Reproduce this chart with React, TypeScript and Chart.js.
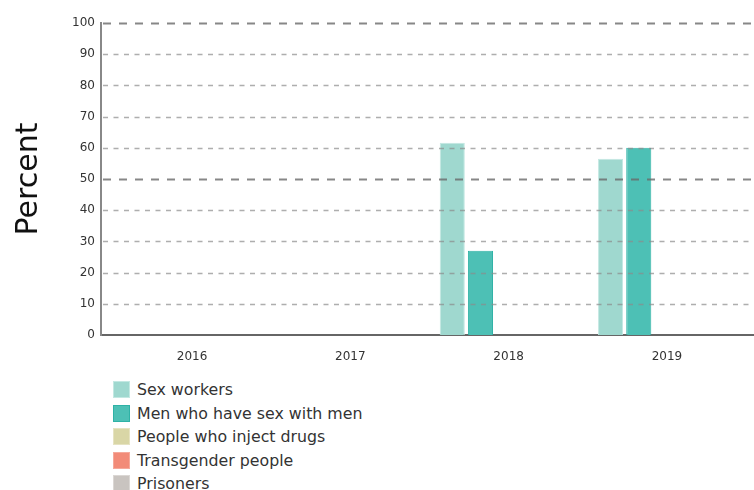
import React, { useEffect, useRef } from 'react';
import { Chart, registerables } from 'chart.js';

Chart.register(...registerables);

const years = ['2016', '2017', '2018', '2019'];
const seriesNames = [
  'Sex workers',
  'Men who have sex with men',
  'People who inject drugs',
  'Transgender people',
  'Prisoners',
];
const sexWorkers: (number | null)[] = [null, null, 61.6, 56.5];
const menWhoHaveSexWithMen: (number | null)[] = [null, null, 27, 60];
const peopleWhoInjectDrugs: (number | null)[] = [null, null, null, null];
const transgenderPeople: (number | null)[] = [null, null, null, null];
const prisoners: (number | null)[] = [null, null, null, null];
const yTickValues = [0, 10, 20, 30, 40, 50, 60, 70, 80, 90, 100];
const majorGridValues = [50, 100];

const seriesValues = [sexWorkers, menWhoHaveSexWithMen, peopleWhoInjectDrugs, transgenderPeople, prisoners];
const fillColors = ['#9fd8cf', '#4dc0b5', '#d9d6a6', '#f28b78', '#c9c4c0'];
const edgeColors = ['#c3e8e2', '#2fb2a6', '#e6e3c2', '#f5a99b', '#dbd7d4'];

const FONT = '"DejaVu Sans", Verdana, sans-serif';

const gridPlugin = {
  id: 'dashGrid',
  afterDatasetsDraw(chart: any) {
    const { ctx, chartArea, scales } = chart;
    const y = scales.y;
    ctx.save();
    for (const t of y.ticks) {
      const v = t.value;
      if (v === 0) continue;
      const py = Math.round(y.getPixelForValue(v)) + 0.5;
      const major = majorGridValues.includes(v);
      ctx.beginPath();
      ctx.setLineDash(major ? [8, 8] : [5, 5.5]);
      ctx.lineDashOffset = 0;
      ctx.lineWidth = major ? 2 : 1.5;
      ctx.strokeStyle = major ? 'rgba(105,105,105,0.8)' : 'rgba(140,140,140,0.7)';
      ctx.moveTo(chartArea.left + 2, py);
      ctx.lineTo(chartArea.right, py);
      ctx.stroke();
    }
    ctx.restore();
  },
};

export default function App() {
  const canvasRef = useRef<HTMLCanvasElement | null>(null);

  useEffect(() => {
    document.body.style.margin = '0';
    const canvas = canvasRef.current;
    if (!canvas) return;
    const chart = new Chart(canvas, {
      type: 'bar',
      data: {
        datasets: seriesNames.map((name, si) => ({
          label: name,
          data: years.map((_, i) => ({ x: i, y: seriesValues[si][i] })) as any,
          backgroundColor: fillColors[si],
          borderColor: edgeColors[si],
          borderWidth: 1,
          categoryPercentage: 0.89,
          barPercentage: 0.89,
        })),
      },
      options: {
        animation: false,
        responsive: false,
        maintainAspectRatio: false,
        layout: { padding: { top: 23, right: 0, left: 0, bottom: 0 } },
        plugins: {
          legend: { display: false },
          tooltip: { enabled: false },
        },
        scales: {
          x: {
            type: 'linear',
            offset: false,
            min: -0.575,
            max: 3.55,
            afterBuildTicks: (s: any) => {
              s.ticks = years.map((_, i) => ({ value: i }));
            },
            afterFit: (s: any) => {
              s.height = 37;
            },
            ticks: {
              callback: (v: any) => years[v as number] ?? '',
              color: '#333',
              font: { family: FONT, size: 12 },
              padding: 7,
              maxRotation: 0,
              autoSkip: false,
            },
            grid: { display: false, offset: false },
            border: { color: '#666', width: 2 },
          },
          y: {
            min: 0,
            max: 100,
            afterBuildTicks: (s: any) => {
              s.ticks = yTickValues.map((v) => ({ value: v }));
            },
            afterFit: (s: any) => {
              s.width = 101;
            },
            ticks: {
              color: '#333',
              font: { family: FONT, size: 12 },
              padding: 6,
            },
            grid: { display: false, drawTicks: false },
            border: { color: '#888', width: 2 },
            title: {
              display: true,
              text: 'Percent',
              color: '#111',
              font: { family: FONT, size: 30 },
              padding: { top: 11, bottom: 0 },
            },
          },
        },
      },
      plugins: [gridPlugin],
    });
    return () => chart.destroy();
  }, []);

  return (
    <div style={{ position: 'relative', width: 754, height: 490, fontFamily: FONT }}>
      <canvas ref={canvasRef} width={754} height={372} style={{ display: 'block', width: 754, height: 372 }} />
      <div style={{ position: 'absolute', left: 113, top: 381 }}>
        {seriesNames.map((name, i) => (
          <div key={name} style={{ display: 'flex', alignItems: 'center', height: 23.5 }}>
            <span
              style={{
                display: 'inline-block',
                width: 15,
                height: 15,
                background: fillColors[i],
                border: `1px solid ${edgeColors[i]}`,
                marginRight: 7,
                marginTop: -6,
              }}
            />
            <span style={{ fontSize: 15.8, color: '#333', lineHeight: '17px', marginTop: -6 }}>{name}</span>
          </div>
        ))}
      </div>
    </div>
  );
}
